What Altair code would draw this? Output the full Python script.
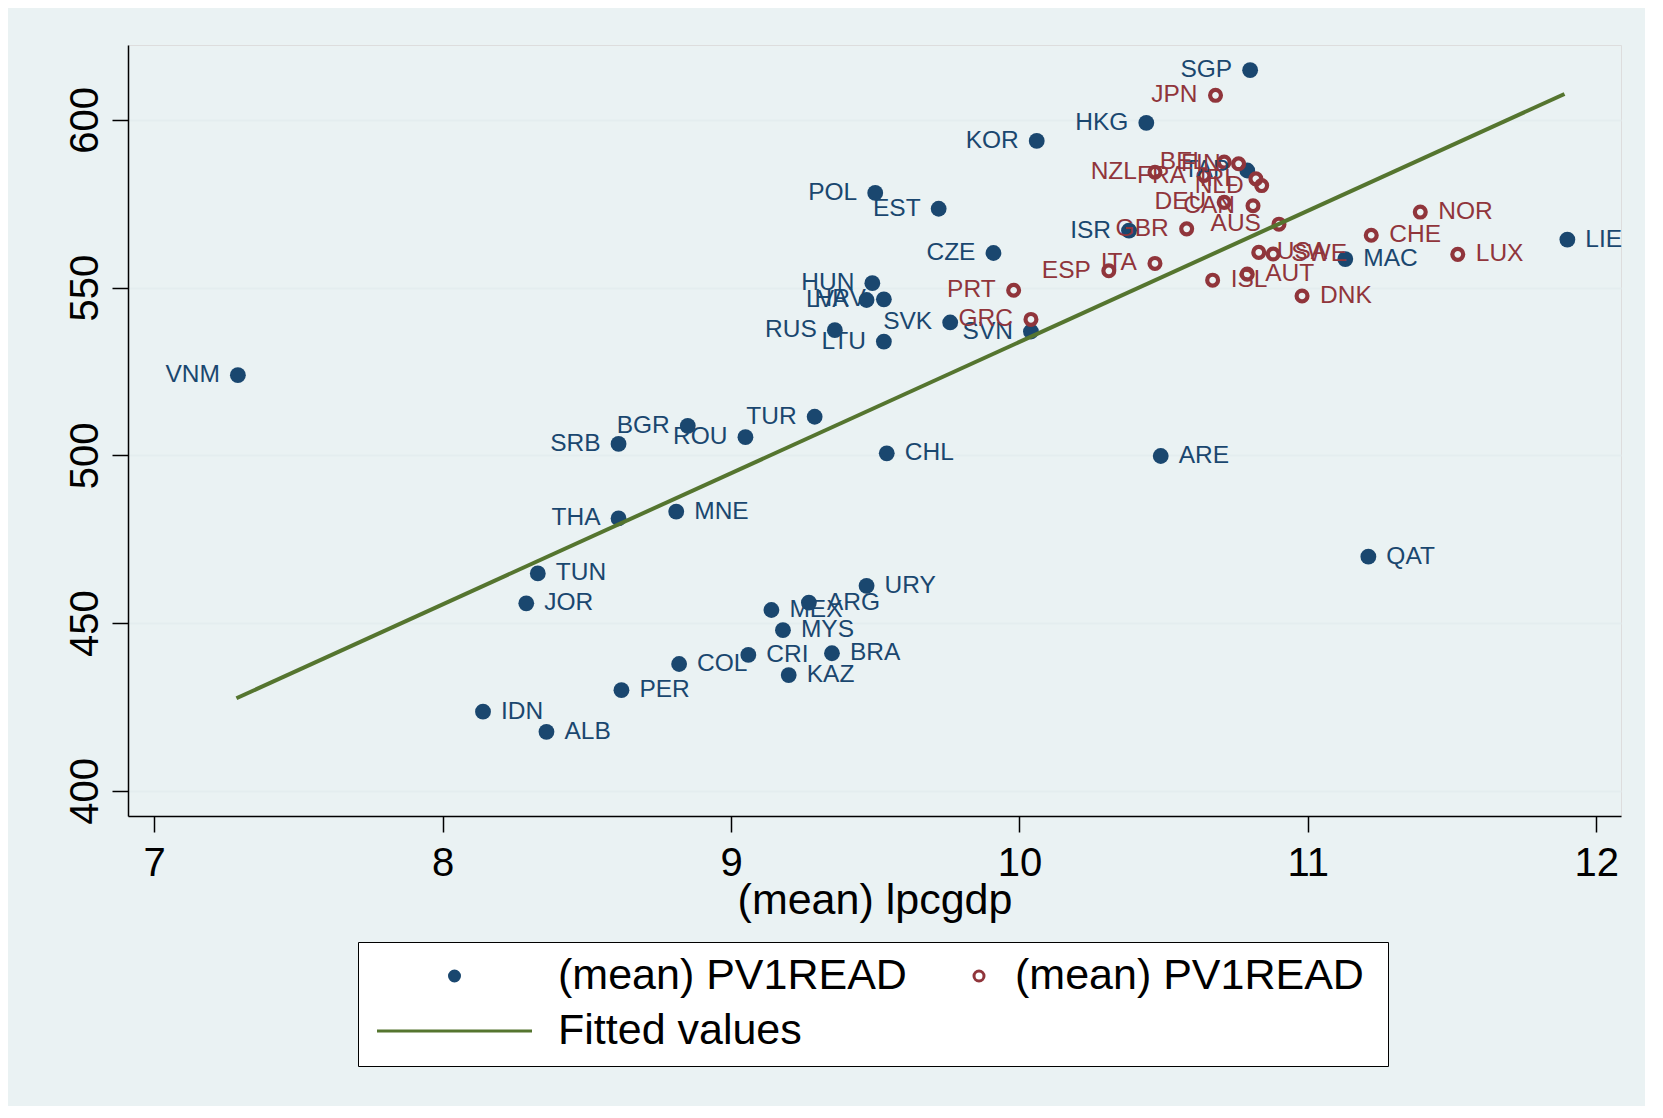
import altair as alt
import pandas as pd

BLUE = "#1A476F"
RED = "#90353B"
GREEN = "#55752F"
BG = "#EAF2F3"
FONT = "Liberation Sans"

# ---- data ----
codes_filled = ["SGP", "HKG", "KOR", "TAP", "POL", "EST", "ISR", "CZE", "LIE", "MAC",
                "HUN", "LVA", "HRV", "SVK", "RUS", "SVN", "LTU", "VNM", "TUR", "BGR",
                "ROU", "SRB", "CHL", "ARE", "MNE", "THA", "QAT", "TUN", "URY", "JOR",
                "ARG", "MEX", "MYS", "BRA", "CRI", "COL", "KAZ", "PER", "IDN", "ALB"]
lpcgdp_filled = [10.80, 10.44, 10.06, 10.79, 9.50, 9.72, 10.38, 9.91, 11.90, 11.13,
                 9.49, 9.47, 9.53, 9.76, 9.36, 10.04, 9.53, 7.29, 9.29, 8.85,
                 9.05, 8.61, 9.54, 10.49, 8.81, 8.61, 11.21, 8.33, 9.47, 8.29,
                 9.27, 9.14, 9.18, 9.35, 9.06, 8.82, 9.20, 8.62, 8.14, 8.36]
read_filled = [614.8, 599.1, 593.7, 584.9, 578.2, 573.5, 567.0, 560.3, 564.3, 558.5,
               551.3, 546.3, 546.5, 539.6, 537.3, 536.9, 533.9, 523.9, 511.5, 508.8,
               505.4, 503.4, 500.6, 499.8, 483.2, 481.2, 469.8, 464.8, 461.1, 455.9,
               456.1, 453.9, 447.9, 441.0, 440.5, 437.8, 434.5, 430.0, 423.6, 417.6]

codes_hollow = ["JPN", "BEL", "FIN", "NZL", "FRA", "IRL", "NLD", "DEU", "CAN", "AUS",
                "GBR", "NOR", "CHE", "USA", "SWE", "LUX", "ITA", "ESP", "AUT", "ISL",
                "PRT", "DNK", "GRC"]
lpcgdp_hollow = [10.68, 10.71, 10.76, 10.47, 10.64, 10.82, 10.84, 10.71, 10.81, 10.90,
                 10.58, 11.39, 11.22, 10.83, 10.88, 11.52, 10.47, 10.31, 10.79, 10.67,
                 9.98, 10.98, 10.04]
read_hollow = [607.3, 587.4, 586.9, 584.4, 583.4, 582.4, 580.4, 575.4, 574.4, 568.9,
               567.5, 572.5, 565.6, 560.5, 560.0, 559.9, 557.2, 555.0, 554.0, 552.2,
               549.2, 547.5, 540.5]

fit_lpcgdp = [7.285, 11.89]
fit_read = [427.6, 607.7]

labels_right = ["LIE", "MAC", "CHL", "ARE", "MNE", "QAT", "TUN", "URY", "JOR", "ARG",
                "MEX", "MYS", "BRA", "CRI", "COL", "KAZ", "PER", "IDN", "ALB",
                "NOR", "CHE", "USA", "SWE", "LUX", "AUT", "ISL", "DNK"]

x_ticks = [7, 8, 9, 10, 11, 12]
y_ticks = [400, 450, 500, 550, 600]

legend_keys = ["a", "b", "c"]
legend_texts = ["(mean) PV1READ", "(mean) PV1READ", "Fitted values"]

# ---- tables ----
pts = pd.DataFrame({
    "code": codes_filled + codes_hollow,
    "lpcgdp": lpcgdp_filled + lpcgdp_hollow,
    "read": read_filled + read_hollow,
    "series": ["a"] * len(codes_filled) + ["b"] * len(codes_hollow),
})
pts["side"] = ["right" if c in labels_right else "left" for c in pts["code"]]
fit = pd.DataFrame({"lpcgdp": fit_lpcgdp, "read": fit_read, "series": "c"})

X = alt.X("lpcgdp:Q",
          scale=alt.Scale(domain=[6.909, 12.086], nice=False, zero=False),
          axis=alt.Axis(values=x_ticks, title="(mean) lpcgdp", grid=False,
                        domainColor="black", domainWidth=1.5,
                        tickColor="black", tickWidth=1.5, tickSize=16,
                        labelFont=FONT, labelFontSize=40, labelColor="black",
                        labelBaseline="alphabetic", labelPadding=43,
                        labelFlush=False, labelOverlap=False,
                        titleFont=FONT, titleFontSize=43, titleFontWeight="normal",
                        titleColor="black", titleBaseline="alphabetic", titleY=97))
Y = alt.Y("read:Q",
          scale=alt.Scale(domain=[392.5, 622.3], nice=False, zero=False),
          axis=alt.Axis(values=y_ticks, title=None, grid=True,
                        gridColor="#E4EDEF", gridWidth=2,
                        domainColor="black", domainWidth=1.5,
                        tickColor="black", tickWidth=1.5, tickSize=16,
                        labelFont=FONT, labelFontSize=40, labelColor="black",
                        labelAngle=270, labelAlign="center",
                        labelBaseline="alphabetic", labelPadding=15,
                        labelFlush=False, labelOverlap=False))

# legend 1 (framed): filled marker entry and fitted-line entry, one column.
# The second-row label is padded with non-breaking spaces (ended by a
# zero-width character so they are not trimmed) so the frame spans both columns.
keys1 = [legend_keys[0], legend_keys[2]]
pad_spaces = "\u00a0" * 48 + "\u200b"
label_expr1 = (f"datum.value == '{legend_keys[0]}' ? '{legend_texts[0]}' : "
               f"'{legend_texts[2]}{pad_spaces}'")
legend1 = alt.Legend(title=None, orient="none", legendX=230, legendY=897,
                     direction="vertical", rowPadding=11, padding=12.5,
                     strokeColor="black", fillColor="white", zindex=0,
                     labelFont=FONT, labelFontSize=43, labelColor="black",
                     labelLimit=2000, labelExpr=label_expr1,
                     symbolSize=100, symbolStrokeWidth=3,
                     symbolOffset=140, labelOffset=4.5,
                     symbolFillColor="transparent", symbolStrokeColor="black")
shape_range1 = [
    "M-14.5,0A1,1,0,1,1,-16.5,0A1,1,0,1,1,-14.5,0Z",
    "M-31,0H0",
]
legend_layer1 = alt.Chart(pts).transform_filter("false").mark_point(opacity=1).encode(
    shape=alt.Shape("series:N", scale=alt.Scale(domain=keys1, range=shape_range1), legend=legend1),
    fill=alt.Fill("series:N", scale=alt.Scale(domain=keys1, range=[BLUE, "transparent"]), legend=legend1),
    stroke=alt.Stroke("series:N", scale=alt.Scale(domain=keys1, range=[BLUE, GREEN]), legend=legend1),
)

# legend 2 (inside the same frame): hollow marker entry
keys2 = [legend_keys[1]]
legend2 = alt.Legend(title=None, orient="none", legendX=829.5, legendY=909.5,
                     padding=0, zindex=1,
                     labelFont=FONT, labelFontSize=43, labelColor="black",
                     labelLimit=2000, labelExpr=f"'{legend_texts[1]}'",
                     symbolType="circle", symbolSize=100, symbolStrokeWidth=3,
                     symbolOffset=0, labelOffset=14.5,
                     symbolFillColor="transparent", symbolStrokeColor=RED)
legend_layer2 = alt.Chart(pts).transform_filter("false").mark_point(
    color=RED, filled=False, strokeWidth=3).encode(
    opacity=alt.Opacity("series:N", scale=alt.Scale(domain=keys2, range=[1]), legend=legend2),
)

filled_pts = alt.Chart(pts).transform_filter("datum.series == 'a'").mark_point(
    filled=True, color=BLUE, size=250, opacity=1).encode(x=X, y=Y)
hollow_pts = alt.Chart(pts).transform_filter("datum.series == 'b'").mark_point(
    filled=False, color=RED, size=118, strokeWidth=4.2, opacity=1).encode(x=X, y=Y)

text_color = alt.condition("datum.series == 'a'", alt.value(BLUE), alt.value(RED))
left_txt = alt.Chart(pts).transform_filter("datum.side == 'left'").mark_text(
    align="right", baseline="middle", dx=-18, font=FONT, fontSize=24.5).encode(
    x=X, y=Y, text="code:N", color=text_color)
right_txt = alt.Chart(pts).transform_filter("datum.side == 'right'").mark_text(
    align="left", baseline="middle", dx=18, font=FONT, fontSize=24.5).encode(
    x=X, y=Y, text="code:N", color=text_color)

fit_line = alt.Chart(fit).mark_line(color=GREEN, strokeWidth=4).encode(x=X, y=Y)

chart = alt.layer(legend_layer1, legend_layer2, filled_pts, hollow_pts,
                  left_txt, right_txt, fit_line).properties(
    width=1493, height=771,
    padding={"left": 120, "top": 37, "right": 24, "bottom": 290},
    autosize=alt.AutoSizeParams(type="none"),
    background=BG,
).configure_view(stroke=None, fill="white").configure(font=FONT)

chart.save("out.html", embed_options={"renderer": "svg", "actions": False})
